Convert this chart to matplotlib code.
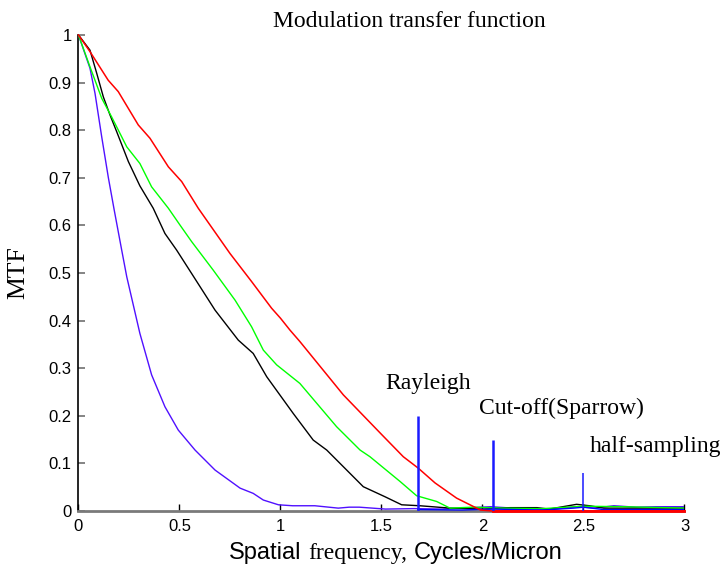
import numpy as np
import matplotlib
matplotlib.use("Agg")
from matplotlib import pyplot as plt

# MTF curves, values read per curve
freq_red = [0, 0.057, 0.147, 0.197, 0.296, 0.354, 0.445, 0.511, 0.593, 0.75, 0.857, 0.956,
            1.0, 1.047, 1.096, 1.311, 1.5, 1.608, 1.682, 1.765, 1.872, 1.99, 2.05, 3.0]
mtf_red = [1, 0.965, 0.905, 0.881, 0.811, 0.783, 0.723, 0.692, 0.636, 0.541, 0.482, 0.426,
           0.405, 0.380, 0.356, 0.244, 0.161, 0.114, 0.090, 0.059, 0.027, 0.002, 0.0, 0.0]

freq_green = [0, 0.057, 0.115, 0.164, 0.239, 0.304, 0.362, 0.445, 0.502, 0.56, 0.667, 0.775,
              0.857, 0.915, 0.981, 1.096, 1.278, 1.394, 1.443, 1.592, 1.674, 1.773, 1.839,
              1.95, 2.1, 2.3, 2.5, 2.7, 3.0]
mtf_green = [1, 0.933, 0.867, 0.828, 0.765, 0.730, 0.681, 0.636, 0.601, 0.566, 0.506, 0.443,
             0.387, 0.338, 0.307, 0.268, 0.177, 0.128, 0.114, 0.062, 0.032, 0.020, 0.006,
             0.008, 0.006, 0.005, 0.010, 0.009, 0.006]

freq_black = [0, 0.057, 0.09, 0.123, 0.156, 0.189, 0.247, 0.304, 0.37, 0.428, 0.486, 0.56,
              0.676, 0.791, 0.865, 0.932, 1.063, 1.162, 1.229, 1.41, 1.517, 1.6, 1.69, 1.84,
              2.0, 2.136, 2.27, 2.33, 2.466, 2.53, 2.6, 3.0]
mtf_black = [1, 0.968, 0.92, 0.870, 0.832, 0.797, 0.734, 0.683, 0.636, 0.583, 0.548, 0.499,
             0.422, 0.359, 0.331, 0.282, 0.205, 0.149, 0.128, 0.051, 0.030, 0.013, 0.011, 0.006,
             0.004, 0.007, 0.007, 0.004, 0.014, 0.011, 0.006, 0.006]

freq_purple = [0, 0.057, 0.082, 0.115, 0.148, 0.177, 0.214, 0.239, 0.304, 0.362, 0.428, 0.494,
               0.577, 0.676, 0.8, 0.865, 0.915, 0.99, 1.06, 1.17, 1.286, 1.34, 1.39, 1.52, 1.66,
               1.8, 1.9, 2.04, 2.15, 2.33, 2.47, 2.56, 2.65, 2.76, 2.86, 3.0]
mtf_purple = [1, 0.93, 0.877, 0.786, 0.700, 0.632, 0.548, 0.492, 0.373, 0.286, 0.219, 0.170,
              0.128, 0.086, 0.048, 0.037, 0.023, 0.013, 0.011, 0.011, 0.006, 0.008, 0.008, 0.004,
              0.005, 0.004, 0.006, 0.009, 0.006, 0.003, 0.009, 0.006, 0.011, 0.008, 0.009, 0.009]

freq_blue = [1.68, 1.9, 2.05, 2.3, 2.45, 2.5, 2.6, 3.0]
mtf_blue = [0.003, 0.002, 0.004, 0.002, 0.006, 0.008, 0.003, 0.003]

# resolution limits
limit_names = ["Rayleigh", "Cut-off(Sparrow)", "half-sampling"]
limit_freq = [1.68, 2.05, 2.5]
limit_height = [0.20, 0.15, 0.08]
limit_label_x = [1.52, 1.983, 2.53]
limit_label_y = [0.256, 0.204, 0.123]

x_ticks = [0, 0.5, 1, 1.5, 2, 2.5, 3]
x_ticklabels = ["0", "0.5", "1", "1.5", "2", "2.5", "3"]
y_ticks = [0, 0.1, 0.2, 0.3, 0.4, 0.5, 0.6, 0.7, 0.8, 0.9, 1]
y_ticklabels = ["0", "0.1", "0.2", "0.3", "0.4", "0.5", "0.6", "0.7", "0.8", "0.9", "1"]

sans = "Liberation Sans"
serif = "Liberation Serif"

fig = plt.figure(figsize=(7.24, 5.66), dpi=100)
ax = fig.add_axes([0.1084, 0.0972, 0.8370, 0.8410])

ax.plot(freq_purple, mtf_purple, color="#5010ff", lw=1.0, zorder=3)
ax.plot(freq_black, mtf_black, color="black", lw=1.0, zorder=3)
ax.plot(freq_green, mtf_green, color="#00ff00", lw=1.0, zorder=3)
ax.plot(freq_blue, mtf_blue, color="#0000ff", lw=1.0, zorder=3)
ax.plot(freq_red, mtf_red, color="red", lw=1.1, zorder=4, clip_on=False)
# the flat tail of the red curve sits on the axis line
ax.plot(freq_red[-2:], mtf_red[-2:], color="red", lw=2.0, zorder=4, clip_on=False)

lw_limits = [1.8, 1.8, 1.1]
for f, h, w in zip(limit_freq, limit_height, lw_limits):
    ax.vlines(f, 0, h, color="#1a1aff", lw=w, zorder=5)
for name, lx, ly in zip(limit_names, limit_label_x, limit_label_y):
    ax.text(lx, ly, name, family=serif, fontsize=17, ha="left", va="baseline")

ax.set_xlim(0, 3)
ax.set_ylim(0, 1)
ax.set_xticks(x_ticks)
ax.set_xticklabels(x_ticklabels, family=sans, fontsize=12)
ax.set_yticks(y_ticks)
ax.set_yticklabels(y_ticklabels, family=sans, fontsize=12)
ax.tick_params(axis="x", direction="in", length=5, width=1, color="black", pad=6)
ax.tick_params(axis="y", direction="in", length=5, width=1.2, color="#707070", pad=5)

for s in ["top", "right"]:
    ax.spines[s].set_visible(False)
ax.spines["bottom"].set_color("#7a7a7a")
ax.spines["bottom"].set_linewidth(2)
ax.spines["left"].set_color("black")
ax.spines["left"].set_linewidth(1.2)

ax.set_ylabel("MTF", family=serif, fontsize=18.5, labelpad=14)

fig.text(409 / 724, 1 - 27 / 566, "Modulation transfer function", family=serif,
         fontsize=17, ha="center", va="baseline")

# x label mixes a sans and a serif face, so lay the pieces out one after another
pieces = [("Spatial", sans), ("frequency,", serif), ("Cycles/Micron", sans)]
fs = 17
base_y = 1 - 559 / 566
fig.canvas.draw()
r = fig.canvas.get_renderer()
texts = [fig.text(0, base_y, p, family=f, fontsize=fs, ha="left", va="baseline") for p, f in pieces]
widths = [t.get_window_extent(r).width for t in texts]
gap = 0.278 * fs * 100 / 72
total = sum(widths) + gap * (len(pieces) - 1)
x = 396 - total / 2
for t, w in zip(texts, widths):
    t.set_x(x / 724)
    x += w + gap

fig.savefig("out.png", dpi=100)
